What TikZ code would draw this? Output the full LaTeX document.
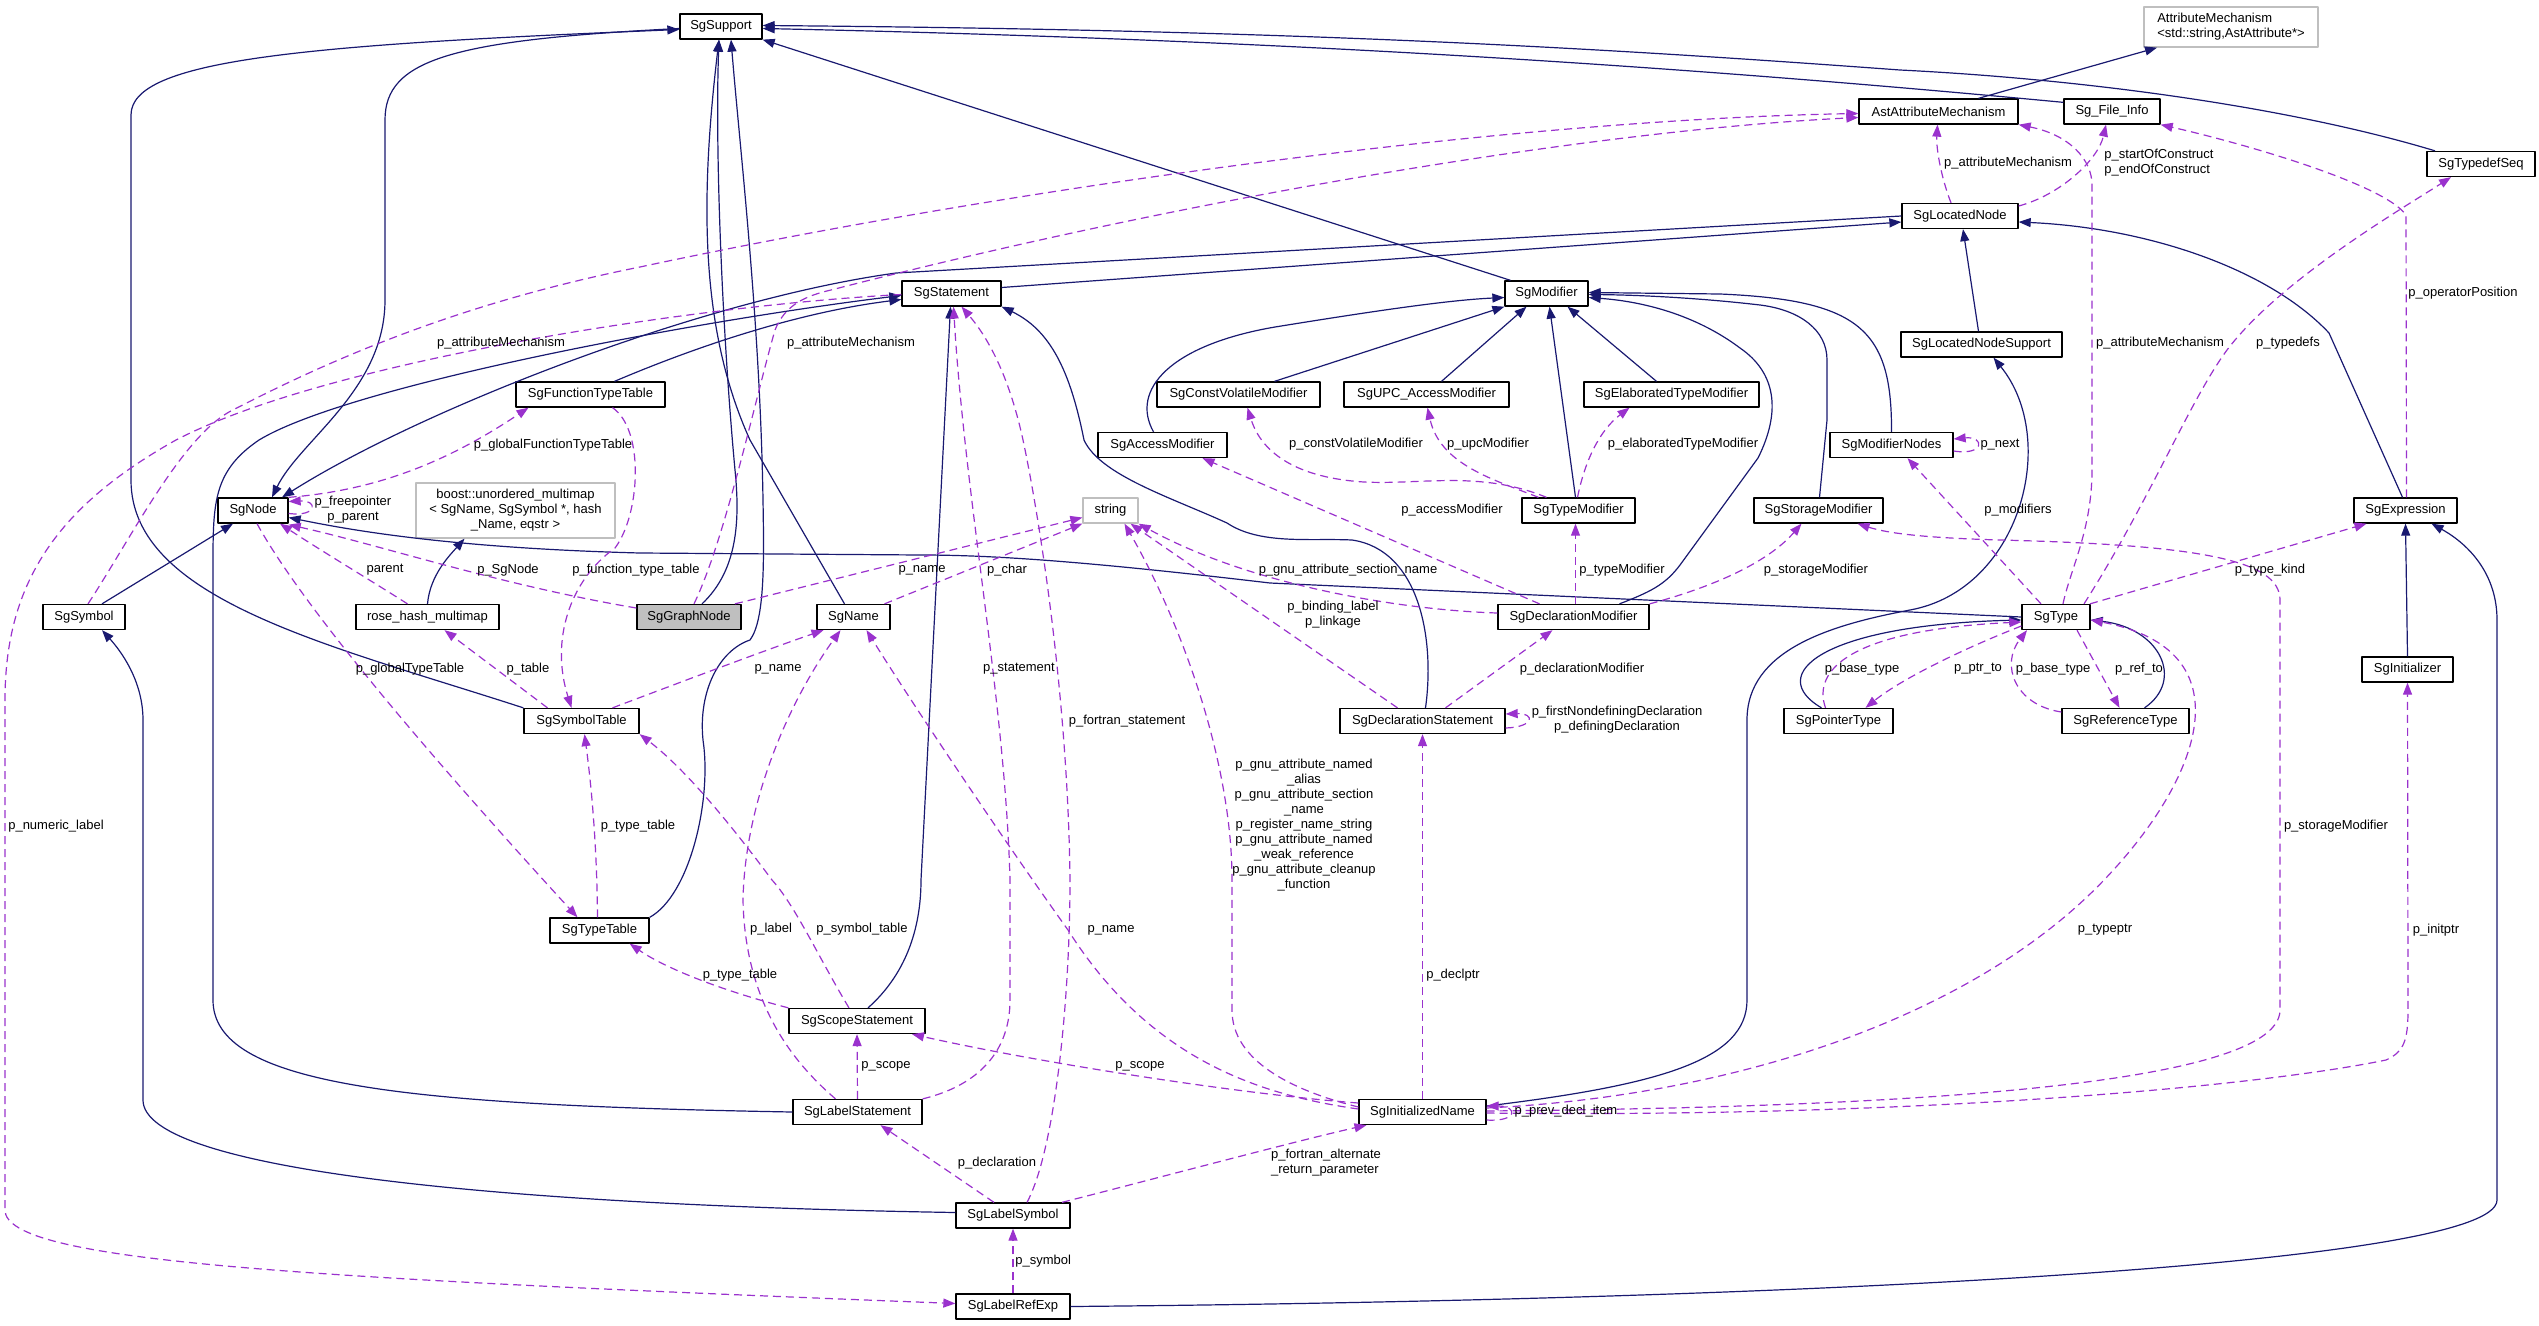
\documentclass[tikz,border=0pt]{standalone}
\usepackage{fontspec}
\setmainfont{Liberation Sans}
\usepackage{tikz}
\usetikzlibrary{arrows.meta}
\definecolor{edgeblue}{HTML}{191970}
\definecolor{edgepurple}{HTML}{9A32CD}
\definecolor{boxgray}{HTML}{BFBFBF}

\begin{document}
\begin{tikzpicture}[
		% one unit = one pixel of the graph, y pointing down
		x=1pt, y=-1pt,
		font=\fontsize{13}{15}\selectfont,
		line join=round, >={Triangle[length=12pt,width=9pt]},
		cls/.style={draw=black, line width=1.3pt, fill=white, minimum height=25pt, inner sep=0pt},
		extcls/.style={cls, draw=boxgray},
		focuscls/.style={cls, fill=boxgray},
		isa/.style={draw=edgeblue, line width=1.2pt, ->},
		hasa/.style={draw=edgepurple, line width=1.2pt, dash pattern=on 8pt off 5pt, ->},
		lbl/.style={inner sep=0pt, align=center}
	]

	\useasboundingbox (0,0) rectangle (2539,1325);

	%-------------------
	% Classes
	%-------------------
	\foreach \nm/\x/\y/\w/\txt in {
			SgSupport/721/26.5/82/SgSupport,
			AstAttrMech/1938.5/111.5/159/AstAttributeMechanism,
			FileInfo/2112/111.5/96/Sg\_File\_Info,
			TypedefSeq/2481/164/108/SgTypedefSeq,
			LocatedNode/1960/216/116/SgLocatedNode,
			Statement/951.5/293.5/99/SgStatement,
			Modifier/1546.5/293.5/83/SgModifier,
			LocNodeSupport/1981.5/344.5/161/SgLocatedNodeSupport,
			FuncTypeTable/590.5/394.5/149/SgFunctionTypeTable,
			ConstVolMod/1238.5/394.5/163/SgConstVolatileModifier,
			UPCMod/1426.5/394.5/165/SgUPC\_AccessModifier,
			ElabMod/1671.5/394.5/175/SgElaboratedTypeModifier,
			AccessMod/1162.5/445/129/SgAccessModifier,
			ModNodes/1891.5/445/123/SgModifierNodes,
			SgNode/253/510.5/70/SgNode,
			TypeMod/1578.5/510.5/113/SgTypeModifier,
			StorageMod/1818.5/510.5/129/SgStorageModifier,
			Expression/2405.5/510.5/103/SgExpression,
			Symbol/84/617/82/SgSymbol,
			RoseHash/427.5/617/143/rose\_hash\_multimap,
			Name/853.5/617/73/SgName,
			DeclMod/1573.5/617/151/SgDeclarationModifier,
			Type/2056/617/68/SgType,
			Initializer/2407.5/669.5/91/SgInitializer,
			SymbolTable/581.5/721/115/SgSymbolTable,
			DeclStmt/1422.5/721/165/SgDeclarationStatement,
			PointerType/1838.5/721/109/SgPointerType,
			RefType/2125.5/721/127/SgReferenceType,
			TypeTable/599.5/930.5/99/SgTypeTable,
			ScopeStmt/857/1021/136/SgScopeStatement,
			LabelStmt/857.5/1112/129/SgLabelStatement,
			InitName/1422.5/1112/127/SgInitializedName,
			LabelSymbol/1013/1215.5/114/SgLabelSymbol,
			LabelRefExp/1013/1306.5/114/SgLabelRefExp
		}{
			\node[cls, minimum width=\w pt] (\nm) at (\x,\y) {\txt};
		}

	% outside classes and the documented one
	\node[extcls, minimum width=174pt, minimum height=40pt, align=left] (AttrMech) at (2231,27)
		{AttributeMechanism\\<std::string,AstAttribute*>};
	\node[extcls, minimum width=199pt, minimum height=55pt, align=center] (Boost) at (515.5,510.5)
		{boost::unordered\_multimap\\< SgName, SgSymbol *, hash\\\_Name, eqstr >};
	\node[extcls, minimum width=55pt] (String) at (1110.5,510.5) {string};
	\node[focuscls, minimum width=104pt] (GraphNode) at (689,617) {SgGraphNode};

	%-------------------
	% Inheritance
	%-------------------
	\draw[isa] (SymbolTable.north west) .. controls (330,645) and (131,600) .. (131,480) -- (131,115)
		.. controls (131,60) and (300,45) .. ([yshift=-3pt]SgSupport.west);
	\draw[isa] ([yshift=-2pt]SgSupport.west) .. controls (450,40) and (385,60) .. (385,120) -- (385,300)
		.. controls (385,390) and (300,440) .. ([xshift=19pt]SgNode.north);
	\draw[isa] (LocatedNode.west) -- (896,273) .. controls (700,300) and (420,410) .. ([xshift=29pt]SgNode.north);
	\draw[isa] ([xshift=18pt]Symbol.north) -- ([xshift=-20pt]SgNode.south);
	\draw[isa] (Type.west) -- (1270,583) .. controls (1100,563) and (1000,555) .. (921,555) -- (640,553)
		.. controls (450,548) and (350,530) .. ([yshift=-7pt]SgNode.east);
	\draw[isa] (RoseHash.north) .. controls (430,575) and (450,555) .. ([xshift=-51pt]Boost.south);
	\draw[isa] ([xshift=24pt]FuncTypeTable.north) .. controls (700,345) and (800,312) .. ([yshift=-6pt]Statement.west);
	\draw[isa] (LabelStmt.west) .. controls (400,1105) and (213,1085) .. (213,1000) -- (213,560)
		.. controls (213,500) and (215,470) .. (259,440) .. controls (350,385) and (700,320) .. ([yshift=-2pt]Statement.west);
	\draw[isa] ([yshift=6pt]Statement.east) -- ([yshift=-6pt]LocatedNode.west);
	\draw[isa] ([xshift=-3pt]Expression.north) -- (2329,333) .. controls (2270,270) and (2150,228) .. ([yshift=-6pt]LocatedNode.east);
	\draw[isa] ([xshift=-3pt]LocNodeSupport.north) -- ([xshift=3pt]LocatedNode.south);
	\draw[isa] ([yshift=6pt]InitName.east) .. controls (1660,1085) and (1747,1060) .. (1747,1000) -- (1747,720)
		.. controls (1747,650) and (1830,625) .. (1910,610) .. controls (2020,590) and (2060,440) .. ([xshift=12pt]LocNodeSupport.south);
	\draw[isa] ([xshift=-17pt]PointerType.north) .. controls (1765,675) and (1820,625) .. ([yshift=-3pt]Type.west);
	\draw[isa] ([xshift=19pt]RefType.north) .. controls (2185,680) and (2160,628) .. ([yshift=-3pt]Type.east);
	\draw[isa] (Initializer.north) -- (Expression.south);
	\draw[isa] (LabelRefExp.east) .. controls (1800,1300) and (2497,1265) .. (2497,1200) -- (2497,620)
		.. controls (2497,575) and (2470,545) .. ([xshift=26pt]Expression.south);
	\draw[isa] ([xshift=11pt]ScopeStmt.north) .. controls (905,975) and (921,930) .. (921,880) -- ([xshift=-1pt]Statement.south);
	\draw[isa] ([xshift=3pt]DeclStmt.north) .. controls (1435,640) and (1420,550) .. (1352,540)
		.. controls (1310,538) and (1260,545) .. (1227,523) .. controls (1170,497) and (1100,475) .. (1084,440)
		.. controls (1070,370) and (1050,330) .. (Statement.south east);
	\draw[isa] (TypeTable.north east) .. controls (690,895) and (712,800) .. (703,740)
		.. controls (698,690) and (720,650) .. (750,640) .. controls (765,620) and (764,560) .. (763,500)
		.. controls (760,320) and (740,150) .. ([xshift=10pt]SgSupport.south);
	\draw[isa] ([xshift=13pt]GraphNode.north) .. controls (738,570) and (740,520) .. (735,470)
		.. controls (722,330) and (715,150) .. ([xshift=-2pt]SgSupport.south);
	\draw[isa] ([xshift=-9pt]Name.north) -- (750,440) .. controls (700,330) and (700,200) .. ([xshift=-2pt]SgSupport.south);
	\draw[isa] ([xshift=-36pt]Modifier.north) -- (SgSupport.south east);
	\draw[isa] ([yshift=-4pt]FileInfo.north west) .. controls (1700,68) and (1300,40) .. ([yshift=-2pt]SgSupport.east);
	\draw[isa] ([xshift=-46pt]TypedefSeq.north) .. controls (2300,110) and (2100,80) .. (1900,70)
		.. controls (1600,48) and (1300,30) .. ([yshift=1pt]SgSupport.east);
	\draw[isa] ([xshift=40pt]AstAttrMech.north) -- ([xshift=-74pt]AttrMech.south);
	\draw[isa] ([yshift=3pt]LabelSymbol.west) .. controls (500,1205) and (143,1170) .. (143,1100) -- (143,720)
		.. controls (143,680) and (120,650) .. ([xshift=18pt]Symbol.south);

	% modifiers
	\draw[isa] ([xshift=-9pt]AccessMod.north) .. controls (1130,390) and (1170,345) .. (1275,327)
		.. controls (1380,310) and (1450,300) .. ([yshift=-4pt]Modifier.west);
	\draw[isa] ([xshift=36pt]ConstVolMod.north) -- (Modifier.south west);
	\draw[isa] ([xshift=15pt]UPCMod.north) -- ([xshift=-20pt]Modifier.south);
	\draw[isa] ([xshift=-3pt]TypeMod.north) -- ([xshift=3pt]Modifier.south);
	\draw[isa] ([xshift=-15pt]ElabMod.north) -- ([xshift=21pt]Modifier.south);
	\draw[isa] ([xshift=46pt]DeclMod.north) .. controls (1650,592) and (1665,585) .. (1680,565) -- (1758,458)
		.. controls (1782,410) and (1775,372) .. (1740,348) .. controls (1700,318) and (1650,302) .. ([yshift=-4pt]Modifier.east);
	\draw[isa] ([xshift=1pt]StorageMod.north) -- (1827,420) -- (1827,360) .. controls (1827,330) and (1800,310) .. (1760,305)
		.. controls (1700,298) and (1640,295) .. ([yshift=-1pt]Modifier.east);
	\draw[isa] (ModNodes.north) .. controls (1892,330) and (1860,300) .. (1720,294) -- ([yshift=1pt]Modifier.east);

	%-------------------
	% Members
	%-------------------
	\draw[hasa] ([yshift=-3pt]SgNode.east) .. controls (318,517) and (318,500) .. ([yshift=9pt]SgNode.east);
	\draw[hasa] (SgNode.north east) .. controls (380,490) and (450,460) .. ([xshift=-62pt]FuncTypeTable.south);
	\draw[hasa] ([xshift=4pt]SgNode.south) .. controls (310,620) and (470,800) .. ([xshift=-22pt]TypeTable.north);
	\draw[hasa] ([xshift=-20pt]RoseHash.north) .. controls (370,580) and (320,550) .. ([xshift=27pt]SgNode.south);
	\draw[hasa] ([yshift=9pt]GraphNode.west) .. controls (500,585) and (380,545) .. ([yshift=-1pt]SgNode.south east);
	\draw[hasa] ([xshift=22pt]FuncTypeTable.south) .. controls (645,430) and (640,515) .. (615,548)
		.. controls (570,580) and (550,640) .. ([xshift=-10pt]SymbolTable.north);
	\draw[hasa] ([xshift=-34pt]SymbolTable.north) -- ([xshift=17pt]RoseHash.south);
	\draw[hasa] ([xshift=31pt]SymbolTable.north) .. controls (660,690) and (760,652) .. ([xshift=-30pt]Name.south);
	\draw[hasa] ([xshift=-2pt]TypeTable.north) .. controls (597,850) and (592,790) .. ([xshift=3pt]SymbolTable.south);
	\draw[hasa] ([xshift=46pt]GraphNode.north) -- ([yshift=-7pt]String.west);
	\draw[hasa] ([xshift=31pt]Name.north) -- (String.south west);
	\draw[hasa] ([xshift=5pt]GraphNode.north) .. controls (725,540) and (755,400) .. (775,330)
		.. controls (785,305) and (805,296) .. (831,290) .. controls (1200,195) and (1600,130) .. ([yshift=-6pt]AstAttrMech.west);
	\draw[hasa] ([xshift=4pt]Symbol.north) .. controls (130,540) and (180,440) .. (229,412)
		.. controls (320,365) and (450,305) .. (640,267) .. controls (1000,190) and (1500,120) .. ([yshift=-2pt]AstAttrMech.west);
	\draw[hasa] ([yshift=-1pt]Statement.west) .. controls (700,305) and (330,360) .. (176,440)
		.. controls (60,505) and (5,580) .. (5,700) -- (5,1210) .. controls (5,1262) and (300,1278) .. ([yshift=3pt]LabelRefExp.west);
	\draw[hasa] ([xshift=-9pt]LocatedNode.north) .. controls (1942,180) and (1936,150) .. ([xshift=-1pt]AstAttrMech.south);
	\draw[hasa] ([xshift=7pt]Type.north) .. controls (2070,570) and (2092,530) .. (2092,470) -- (2092,185)
		.. controls (2092,160) and (2070,135) .. (AstAttrMech.south east);
	\draw[hasa] ([yshift=10pt]LocatedNode.east) .. controls (2060,195) and (2098,160) .. ([xshift=-6pt]FileInfo.south);
	\draw[hasa] ([xshift=1pt]Expression.north) -- (2406,215) .. controls (2385,185) and (2250,145) .. (FileInfo.south east);
	\draw[hasa] ([xshift=28pt]Type.north) .. controls (2150,500) and (2190,400) .. (2227,350)
		.. controls (2280,280) and (2400,210) .. ([xshift=-30pt]TypedefSeq.south);

	% modifiers
	\draw[hasa] ([xshift=-34pt]DeclMod.north) -- ([xshift=40pt]AccessMod.south);
	\draw[hasa] ([xshift=-32pt]TypeMod.north) .. controls (1480,470) and (1420,485) .. (1364,482)
		.. controls (1300,478) and (1262,455) .. ([xshift=9pt]ConstVolMod.south);
	\draw[hasa] ([xshift=-40pt]TypeMod.north) .. controls (1495,480) and (1440,465) .. ([xshift=1pt]UPCMod.south);
	\draw[hasa] ([xshift=-1pt]TypeMod.north) .. controls (1585,460) and (1600,430) .. ([xshift=-42pt]ElabMod.south);
	\draw[hasa] ([xshift=2pt]DeclMod.north) -- ([xshift=-3pt]TypeMod.south);
	\draw[hasa] (DeclMod.north east) .. controls (1720,585) and (1770,560) .. ([xshift=-17pt]StorageMod.south);
	\draw[hasa] ([yshift=4pt]DeclMod.west) .. controls (1400,610) and (1250,585) .. (String.south east);
	\draw[hasa] ([xshift=-25pt]DeclStmt.north) -- ([xshift=20pt]String.south);
	\draw[hasa] ([yshift=5pt]InitName.west) .. controls (1290,1090) and (1232,1060) .. (1232,1010) -- (1232,880)
		.. controls (1232,760) and (1180,620) .. ([xshift=14pt]String.south);
	\draw[hasa] ([xshift=23pt]DeclStmt.north) -- ([xshift=-21pt]DeclMod.south);
	\draw[hasa] ([yshift=-7pt]DeclStmt.east) .. controls (1535,727) and (1535,713) .. ([yshift=7pt]DeclStmt.east);
	\draw[hasa] (InitName.north) -- (DeclStmt.south);

	% types
	\draw[hasa] ([xshift=-15pt]Type.north) -- ([xshift=16pt]ModNodes.south);
	\draw[hasa] ([yshift=-6pt]ModNodes.east) .. controls (1985,456) and (1985,436) .. ([yshift=6pt]ModNodes.east);
	\draw[hasa] ([xshift=34pt]Type.north) -- ([xshift=-39pt]Expression.south);
	\draw[hasa] ([yshift=-9pt]Type.west) .. controls (1960,650) and (1900,680) .. ([xshift=27pt]PointerType.north);
	\draw[hasa] ([xshift=-13pt]PointerType.north) .. controls (1812,670) and (1850,630) .. ([yshift=-5pt]Type.west);
	\draw[hasa] ([yshift=9pt]RefType.west) .. controls (2015,705) and (2000,665) .. ([xshift=-29pt]Type.south);
	\draw[hasa] ([xshift=21pt]Type.south) -- ([xshift=-6pt]RefType.north);

	% initialized name
	\draw[hasa] ([yshift=4pt]InitName.east) .. controls (1750,1095) and (1980,1010) .. (2104,880)
		.. controls (2200,780) and (2250,650) .. ([yshift=-3pt]Type.east);
	\draw[hasa] ([yshift=1pt]InitName.east) .. controls (1800,1108) and (2280,1095) .. (2280,1010) -- (2280,600)
		.. controls (2280,560) and (2200,545) .. (2000,540) .. controls (1930,538) and (1890,534) .. ([xshift=39pt]StorageMod.south);
	\draw[hasa] ([yshift=-1pt]InitName.east) .. controls (1900,1118) and (2250,1088) .. (2386,1060)
		.. controls (2404,1052) and (2408,1040) .. (2408,1010) -- (Initializer.south);
	\draw[hasa] ([yshift=-8pt]InitName.east) .. controls (1518,1122) and (1518,1106) .. ([yshift=6pt]InitName.east);
	\draw[hasa] ([yshift=3pt]InitName.west) .. controls (1260,1095) and (1150,1060) .. (1068,930)
		.. controls (1000,835) and (910,700) .. ([xshift=13pt]Name.south);
	\draw[hasa] ([yshift=9pt]InitName.west) .. controls (1250,1095) and (1050,1065) .. ([xshift=55pt]ScopeStmt.south);

	% labels and scopes
	\draw[hasa] (LabelStmt.north) -- (ScopeStmt.south);
	\draw[hasa] ([xshift=-19pt]LabelSymbol.north) -- ([xshift=23pt]LabelStmt.south);
	\draw[hasa] (LabelRefExp.north) -- (LabelSymbol.south);
	\draw[hasa] ([xshift=49pt]LabelSymbol.north) .. controls (1150,1180) and (1300,1140) .. ([xshift=-56pt]InitName.south);
	\draw[hasa] ([xshift=14pt]LabelSymbol.north) .. controls (1055,1150) and (1070,1000) .. (1070,880)
		.. controls (1068,700) and (1040,520) .. (1023,440) .. controls (1010,380) and (990,340) .. ([xshift=10pt]Statement.south);
	\draw[hasa] (LabelStmt.north east) .. controls (980,1085) and (1010,1050) .. (1010,1000) -- (1010,880)
		.. controls (1005,700) and (965,500) .. ([xshift=2pt]Statement.south);
	\draw[hasa] ([xshift=-22pt]LabelStmt.north) .. controls (790,1060) and (745,1000) .. (743,900)
		.. controls (745,800) and (790,700) .. ([xshift=-13pt]Name.south);
	\draw[hasa] ([xshift=-8pt]ScopeStmt.north) .. controls (820,960) and (795,905) .. (772,880)
		.. controls (720,810) and (680,765) .. (SymbolTable.south east);
	\draw[hasa] (ScopeStmt.north west) .. controls (720,990) and (665,968) .. ([xshift=-20pt]TypeTable.south east);

	%-------------------
	% Edge labels
	%-------------------
	\foreach \nm/\x/\y/\txt in {
			lSymAttr/501/343/p\_attributeMechanism,
			lGraphAttr/851/343/p\_attributeMechanism,
			lLocAttr/2008/163/p\_attributeMechanism,
			lTypeAttr/2160/343/p\_attributeMechanism,
			lOperPos/2463/293/p\_operatorPosition,
			lTypedefs/2288/343/p\_typedefs,
			lNumLabel/56/826/p\_numeric\_label,
			lGlobFunc/553/445/p\_globalFunctionTypeTable,
			lFree/353/510/{p\_freepointer\\p\_parent},
			lParent/385/570/parent,
			lSgNode/508/570/p\_SgNode,
			lFuncTab/636/570/p\_function\_type\_table,
			lGlobType/410/669/p\_globalTypeTable,
			lTable/528/669/p\_table,
			lTypeTab/638/826/p\_type\_table,
			lGraphName/922/570/p\_name,
			lChar/1007/570/p\_char,
			lSymName/778/669/p\_name,
			lStmt/1019/669/p\_statement,
			lFortStmt/1127/721/p\_fortran\_statement,
			lSectName/1348/570/p\_gnu\_attribute\_section\_name,
			lBinding/1333/615/{p\_binding\_label\\p\_linkage},
			lAccess/1452/510/p\_accessModifier,
			lConstVol/1356/444/p\_constVolatileModifier,
			lUpc/1488/444/p\_upcModifier,
			lElab/1683/444/p\_elaboratedTypeModifier,
			lTypeMod/1622/570/p\_typeModifier,
			lStorage/1816/570/p\_storageModifier,
			lDeclMod/1582/669/p\_declarationModifier,
			lDefDecl/1617/720/{p\_firstNondefiningDeclaration\\p\_definingDeclaration},
			lModifiers/2018/510/p\_modifiers,
			lNext/2000/445/p\_next,
			lTypeKind/2270/570/p\_type\_kind,
			lPtrTo/1978/669/p\_ptr\_to,
			lPtrBase/1862/669/p\_base\_type,
			lRefBase/2053/669/p\_base\_type,
			lRefTo/2139/669/p\_ref\_to,
			lInitStorage/2336/826/p\_storageModifier,
			lInitPtr/2436/930/p\_initptr,
			lTypePtr/2105/930/p\_typeptr,
			lDeclPtr/1453/975/p\_declptr,
			lInitName/1111/930/p\_name,
			lLabel/771/929/p\_label,
			lSymTab/862/929/p\_symbol\_table,
			lScopeType/740/975/p\_type\_table,
			lLabelScope/886/1066/p\_scope,
			lInitScope/1140/1066/p\_scope,
			lPrev/1566/1111/p\_prev\_decl\_item,
			lDecl/997/1163/p\_declaration,
			lSymbol/1045/1261/p\_symbol
		}{
			\node[lbl] (\nm) at (\x,\y) {\txt};
		}

	\node[lbl] (lGnu) at (1304,825) {p\_gnu\_attribute\_named\\\_alias\\p\_gnu\_attribute\_section\\\_name\\p\_register\_name\_string\\p\_gnu\_attribute\_named\\\_weak\_reference\\p\_gnu\_attribute\_cleanup\\\_function};
	\node[lbl, align=left] (lConstruct) at (2159,163) {p\_startOfConstruct\\p\_endOfConstruct};
	\node[lbl, align=left] (lAltReturn) at (1326,1163) {p\_fortran\_alternate\\\_return\_parameter};

\end{tikzpicture}
\end{document}
